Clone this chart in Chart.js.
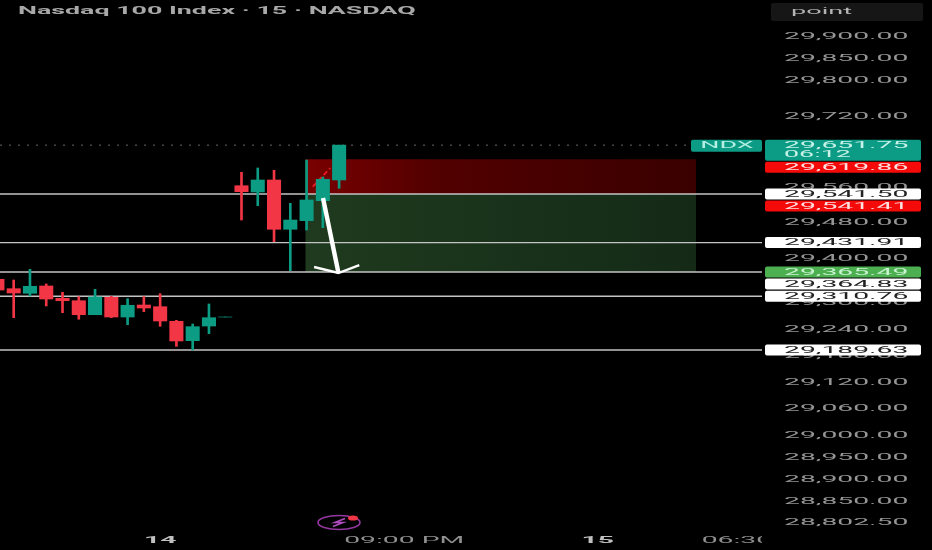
<!DOCTYPE html>
<html>
<head>
<meta charset="utf-8">
<style>
  html, body { margin: 0; padding: 0; background: #000; }
  canvas { display: block; }
</style>
<script src="https://cdn.jsdelivr.net/npm/chart.js@4"></script>
</head>
<body>
<canvas id="chart" width="932" height="550"></canvas>
<script>
// candle data, the first one is cut by the left edge
const candleIndex = [-1,0,1,2,3,4,5,6,7,8,9,10,11,12,13,14,15,16,17,18,19,20];
const opens  = [29349.1,29327.9,29317.5,29334.0,29306.2,29300.8,29269.2,29308.5,29264.0,29291.1,29287.3,29254.3,29210.6,29243.7,29263.5,29560.2,29546.0,29573.1,29461.9,29481.3,29526.4,29573.1];
const closes = [29324.9,29318.2,29333.3,29304.6,29300.8,29269.2,29309.2,29264.0,29290.5,29284.3,29255.0,29209.9,29242.2,29262.5,29264.5,29546.7,29573.1,29461.9,29482.8,29528.0,29574.7,29651.75];
const highs  = [29349.1,29347.5,29371.6,29338.5,29319.8,29309.8,29326.5,29310.7,29305.3,29309.8,29316.6,29256.6,29248.2,29293.4,29264.5,29590.5,29600.2,29595.0,29520.5,29618.2,29579.8,29651.75];
const lows   = [29324.9,29262.5,29311.4,29288.9,29273.7,29258.9,29269.2,29262.5,29246.7,29276.0,29243.1,29197.9,29189.6,29226.4,29263.5,29482.8,29515.1,29433.9,29368.5,29460.3,29465.5,29554.4];

// price levels drawn by hand on the chart
const levels = [29541.50, 29431.91, 29365.49, 29310.76, 29189.63];
const lastPrice = 29651.75;

// long position tool
const entryPrice = 29541.50;
const stopPrice = 29619.86;
const targetPrice = 29365.49;
const boxRange = [17.92, 41.94];

// arrow + dashed trace, in index / price
const arrowShaft = [[19.01, 29532.5], [19.96, 29363.3]];
const arrowHead = [[18.46, 29376.8], [19.96, 29363.3], [21.24, 29381.3]];
const dashTrace = [[18.38, 29558], [19.45, 29600]];

// axes
const yTicks = [29900,29850,29800,29720,29560,29480,29400,29300,29240,29180,29120,29060,29000,28950,28900,28850,28802.5];
const xTicks = [9, 24, 35.9, 44.45];
const xLabels = ["14", "09:00 PM", "15", "06:30"];
const xBold = [true, false, true, false];

// price tags on the right, top to bottom
const tagPrices = [29651.75, 29619.86, 29541.50, 29541.41, 29431.91, 29365.49, 29364.83, 29310.76, 29189.63];
const tagLabels = ["29,651.75", "29,619.86", "29,541.50", "29,541.41", "29,431.91", "29,365.49", "29,364.83", "29,310.76", "29,189.63"];
const tagColors = ["#0c9c85", "#f50a0a", "#ffffff", "#f50a0a", "#ffffff", "#4caf50", "#ffffff", "#ffffff", "#ffffff"];
const tagText = ["#c9f2e8", "#ffe0e0", "#222222", "#ffe0e0", "#222222", "#c9f2d0", "#222222", "#222222", "#222222"];

const GREEN = "#0b9c83";
const RED = "#f23645";
const STRETCH = 2.98;
const FONT = "Roboto, 'Liberation Sans', sans-serif";

function money(v) {
  return v.toLocaleString("en-US", { minimumFractionDigits: 2, maximumFractionDigits: 2 });
}

// the screenshot is stretched sideways, so the text has to be too
function wideText(ctx, text, x, y, color, size, weight, align, sx) {
  sx = sx || STRETCH;
  ctx.save();
  ctx.translate(x, y);
  ctx.scale(sx, 1);
  ctx.font = (weight || "400") + " " + size + "px " + FONT;
  ctx.fillStyle = color;
  ctx.textAlign = align || "left";
  ctx.textBaseline = "middle";
  ctx.fillText(text, 0, 0);
  ctx.restore();
}

function roundBox(ctx, x, y, w, h, color) {
  ctx.fillStyle = color;
  ctx.beginPath();
  ctx.roundRect(x, y, w, h, 2);
  ctx.fill();
}

function boxFill(stops) {
  return function (c) {
    const chart = c.chart;
    if (!chart.chartArea) return stops[0];
    const xs = chart.scales.x;
    const g = chart.ctx.createLinearGradient(xs.getPixelForValue(boxRange[0]), 0, xs.getPixelForValue(boxRange[1]), 0);
    stops.forEach((s, i) => g.addColorStop(i / (stops.length - 1), s));
    return g;
  };
}

const pts = (arr) => arr.map((p) => ({ x: p[0], y: p[1] }));
const isFlat = (i) => Math.abs(opens[i] - closes[i]) < 2;
const candleColor = (i) => isFlat(i) ? "#0a5f50" : (closes[i] >= opens[i] ? GREEN : RED);

const datasets = [];

// position boxes
datasets.push({
  type: "line", order: 9, data: pts([[boxRange[0], stopPrice], [boxRange[1], stopPrice]]),
  borderWidth: 0, pointRadius: 0, fill: { value: entryPrice },
  backgroundColor: boxFill(["#7a0000", "#520000", "#460000", "#3a0000"])
});
datasets.push({
  type: "line", order: 9, data: pts([[boxRange[0], targetPrice], [boxRange[1], targetPrice]]),
  borderWidth: 0, pointRadius: 0, fill: { value: entryPrice },
  backgroundColor: boxFill(["#1f3a1e", "#142a17"])
});

// horizontal levels
levels.forEach(function (v) {
  datasets.push({
    type: "line", order: 8, data: [{ x: -0.842, y: v }, { x: 45.99, y: v }],
    borderColor: "#c4c4c4", borderWidth: 1.4, pointRadius: 0
  });
});

// last price dots
datasets.push({
  type: "line", order: 8, data: [{ x: -0.842, y: lastPrice }, { x: 41.6, y: lastPrice }],
  borderColor: "#6a6a6a", borderWidth: 1, borderDash: [2, 7], pointRadius: 0
});

datasets.push({
  type: "line", order: 7, data: pts(dashTrace),
  borderColor: "#f01c26", borderWidth: 1.8, borderDash: [5, 3], pointRadius: 0
});

// wicks under bodies
datasets.push({
  type: "bar", order: 6, grouped: false, barThickness: 2,
  data: candleIndex.map((x, i) => ({ x: x, y: [lows[i], highs[i]] })),
  backgroundColor: candleIndex.map((x, i) => candleColor(i))
});
datasets.push({
  type: "bar", order: 5, grouped: false, barThickness: 13.4,
  data: candleIndex.map((x, i) => ({ x: x, y: [opens[i], closes[i]] })),
  backgroundColor: candleIndex.map((x, i) => candleColor(i))
});

// white arrow
datasets.push({
  type: "line", order: 2, data: pts(arrowShaft),
  borderColor: "#ffffff", borderWidth: 4.4, pointRadius: 0
});
datasets.push({
  type: "line", order: 2, data: pts(arrowHead),
  borderColor: "#ffffff", borderWidth: 2.4, pointRadius: 0
});

const labelsPlugin = {
  id: "labels",
  afterDraw(chart) {
    const ctx = chart.ctx;
    const ys = chart.scales.y;
    const xs = chart.scales.x;

    // title and the little "point" button
    wideText(ctx, "Nasdaq 100 Index · 15 · NASDAQ", 18, 11, "#a8a8a8", 10, "700", "left", 2.68);
    roundBox(ctx, 771, 3, 152, 18, "#161616");
    wideText(ctx, "point", 791, 12, "#b4b4b4", 9.5, "400", "left", 2.85);

    // y ticks
    yTicks.forEach(function (v) {
      wideText(ctx, money(v), 784, ys.getPixelForValue(v) + 1.5, "#969696", 9.5);
    });

    // x ticks, cut off where the price axis starts
    ctx.save();
    ctx.beginPath();
    ctx.rect(0, 530, 762, 20);
    ctx.clip();
    xTicks.forEach(function (t, i) {
      wideText(ctx, xLabels[i], xs.getPixelForValue(t), 541, xBold[i] ? "#c0c0c0" : "#909090", 9.5, xBold[i] ? "700" : "400", "center");
    });
    ctx.restore();

    // tags push each other downward when they would overlap
    let lastBottom = -100;
    tagPrices.forEach(function (p, i) {
      const h = i === 0 ? 21 : 11;
      let top = ys.getPixelForValue(p) - (i === 0 ? 5.5 : h / 2);
      if (top < lastBottom + 1) top = lastBottom + 1;
      roundBox(ctx, 765, top, 156, h, tagColors[i]);
      wideText(ctx, tagLabels[i], 784, top + 5.8, tagText[i], 9.5);
      if (i === 0) {
        wideText(ctx, "06:12", 784, top + 15.5, tagText[i], 9);
        roundBox(ctx, 691, top, 71, 12, tagColors[i]);
        wideText(ctx, "NDX", 727, top + 6, "#b5efe2", 9, "400", "center");
      }
      lastBottom = top + h;
    });

    // flash icon at the bottom
    ctx.strokeStyle = "#93389f";
    ctx.lineWidth = 1.6;
    ctx.beginPath();
    ctx.ellipse(339, 522.5, 21, 7, 0, 0, Math.PI * 2);
    ctx.stroke();
    ctx.strokeStyle = "#b04cc0";
    ctx.beginPath();
    ctx.moveTo(345, 518.5);
    ctx.lineTo(335, 522.5);
    ctx.lineTo(343, 522.5);
    ctx.lineTo(333, 526.5);
    ctx.stroke();
    ctx.fillStyle = "#f23645";
    ctx.beginPath();
    ctx.ellipse(353, 518, 5, 2.6, 0, 0, Math.PI * 2);
    ctx.fill();
  }
};

new Chart(document.getElementById("chart"), {
  data: { datasets: datasets },
  plugins: [labelsPlugin],
  options: {
    responsive: false,
    animation: false,
    devicePixelRatio: 1,
    layout: { padding: 0 },
    plugins: { legend: { display: false }, tooltip: { enabled: false }, title: { display: false } },
    scales: {
      x: {
        type: "linear", offset: false, min: -0.842, max: 45.99,
        grid: { display: false }, border: { display: false },
        ticks: { display: false },
        afterBuildTicks(scale) { scale.ticks = xTicks.map((v) => ({ value: v })); },
        afterFit(scale) { scale.height = 20; }
      },
      y: {
        type: "linear", position: "right", min: 28783.55, max: 29979.13,
        grid: { display: false }, border: { display: false },
        ticks: { display: false },
        afterBuildTicks(scale) { scale.ticks = yTicks.map((v) => ({ value: v })); },
        afterFit(scale) { scale.width = 170; }
      }
    }
  }
});
</script>
</body>
</html>
